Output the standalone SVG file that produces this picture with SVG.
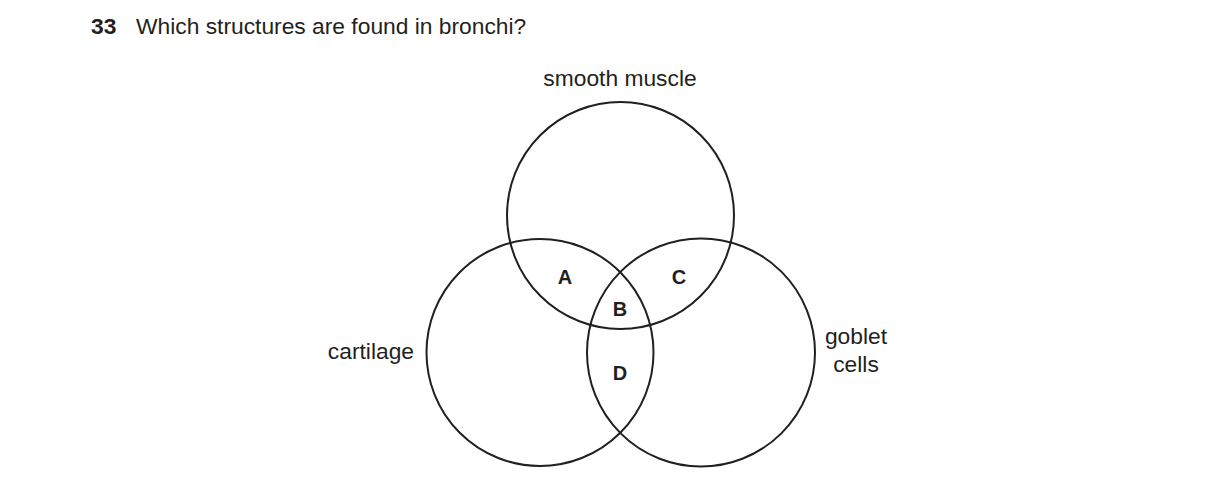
<svg xmlns="http://www.w3.org/2000/svg" width="1216" height="492" viewBox="0 0 1216 492">
<style>
text{font-family:"Liberation Sans",Arial,sans-serif;font-size:22.8px;fill:#231f20}
.b{font-weight:bold}
.l{font-weight:bold;font-size:20px;text-anchor:middle}
circle{fill:none;stroke:#231f20;stroke-width:2}
</style>
<rect width="1216" height="492" fill="#fff"/>
<g id="question"><text class="b" x="91" y="34">33</text><text x="136" y="34">Which structures are found in bronchi?</text></g>
<g id="smooth-muscle"><circle cx="620.5" cy="215.5" r="113.5"/><text x="620" y="86" text-anchor="middle">smooth muscle</text></g>
<g id="cartilage"><circle cx="540" cy="352.5" r="113.5"/><text x="414" y="359" text-anchor="end">cartilage</text></g>
<g id="goblet-cells"><circle cx="701" cy="352.5" r="114"/><text x="856" y="344" text-anchor="middle">goblet</text><text x="856" y="372" text-anchor="middle">cells</text></g>
<g id="labels"><text class="l" x="565" y="284">A</text><text class="l" x="679" y="284">C</text><text class="l" x="620" y="316">B</text><text class="l" x="620" y="380">D</text></g>
<g id="connectors"/>
</svg>
